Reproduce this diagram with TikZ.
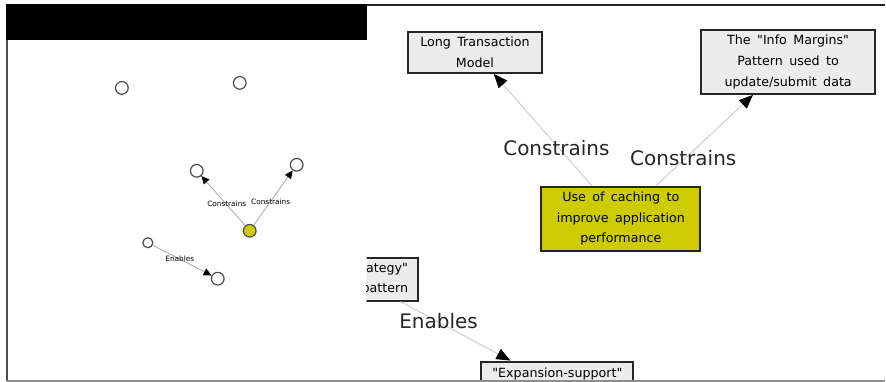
\documentclass[tikz,border=0pt]{standalone}
\usepackage{fontspec}
\setmainfont{DejaVu Sans}
\newfontfamily\boxfont[WordSpace=1.6]{DejaVu Sans}
\usetikzlibrary{arrows.meta,calc}

\definecolor{cachegold}{RGB}{204,204,0}
\definecolor{boxgrey}{RGB}{236,236,236}
\definecolor{linkgrey}{RGB}{208,208,208}

\tikzset{every picture/.style={line width=0.75pt}}
\tikzset{
  topic/.style={draw=black!85, line width=1.5pt, fill=boxgrey, align=center, inner sep=0pt,
    font=\boxfont\fontsize{9.5}{15.5}\selectfont},
  dot/.style={circle, draw=black!70, fill=white, line width=0.9pt, minimum size=9.5pt, inner sep=0pt},
  link/.style={draw=linkgrey, line width=0.8pt, -{Triangle[black,length=10.5pt,width=8.5pt]}},
  minilink/.style={draw=black!35, line width=0.6pt, -{Triangle[black,length=6pt,width=5.5pt]}},
  bigtag/.style={font=\fontsize{15}{18}\selectfont, text=black!85, inner sep=0.75pt},
  tinytag/.style={font=\fontsize{5.5}{6}\selectfont, inner sep=0.5pt},
}

\begin{document}
\begin{tikzpicture}[x=0.75pt,y=0.75pt,yscale=-1,xscale=1]
\path (0,0) rectangle (886,382); %set diagram size

%Frame: black title bar and borders
\draw [fill=black] (7,5) rectangle (367,40) ;
\draw [black!70, line width=1.2pt] (7,40) -- (7,381) ;
\draw [black!45, line width=1.5pt] (7,381) -- (886,381) ;
\draw [black!85, line width=1.2pt] (367,5) -- (886,5) ;

%Overview: circles
\node [dot] (ovA) at (122,88) {};
\node [dot] (ovB) at (240,83) {};
\node [dot] (ovLong) at (197,171) {};
\node [dot] (ovInfo) at (297,165) {};
\node [dot, fill=cachegold] (ovCache) at (250,231) {};
\node [dot, minimum size=7.5pt] (ovStrat) at (148,243) {};
\node [dot] (ovExpand) at (218,279) {};

%Overview: links
\draw [minilink] (ovCache) -- (ovLong) ;
\draw [minilink] (ovCache) -- (ovInfo) ;
\draw [minilink] (ovStrat) -- (ovExpand) ;

% Text Node
\node [tinytag] (ovTagA) at (227,204) {Constrains};
% Text Node
\node [tinytag] (ovTagB) at (271,202) {Constrains};
% Text Node
\node [tinytag] (ovTagC) at (180,259) {Enables};

\begin{scope}
\clip (367,5) rectangle (886,380);

%Shape: Rectangle
\node [topic, minimum width=101.25pt, minimum height=30.75pt] (longtx) at (475.5,52.5) {Long Transaction\\Model};
%Shape: Rectangle
\node [topic, minimum width=130.5pt, minimum height=48pt] (margins) at (789,62) {The "Info Margins"\\Pattern used to\\update/submit data};
%Shape: Rectangle
\node [topic, fill=cachegold, minimum width=119.25pt, minimum height=48pt] (cache) at (621.5,219) {Use of caching to\\improve application\\performance};
%Shape: Rectangle
\node [topic, minimum width=112.5pt, minimum height=32.25pt] (strategy) at (343,279.5) {};
\node [anchor=east, align=right, inner sep=0pt, font=\boxfont\fontsize{9.5}{15.5}\selectfont] (strategytext) at (409,279.5) {ategy"\\pattern};
%Shape: Rectangle
\node [topic, minimum width=114pt, minimum height=18pt] (expand) at (558,374) {"Expansion-support"};

%Links
\draw [link] (cache) -- (longtx) ;
\draw [link] (cache) -- (margins) ;
\draw [link] ($(strategy.south east)+(-18,0)$) -- ($(expand.north west)+(30,0)$) ;
\end{scope}

% Text Node
\node [bigtag] (tagLong) at (557,148) {Constrains};
% Text Node
\node [bigtag] (tagMargins) at (684,158) {Constrains};
% Text Node
\node [bigtag] (tagEnables) at (439,321) {Enables};

\end{tikzpicture}
\end{document}
